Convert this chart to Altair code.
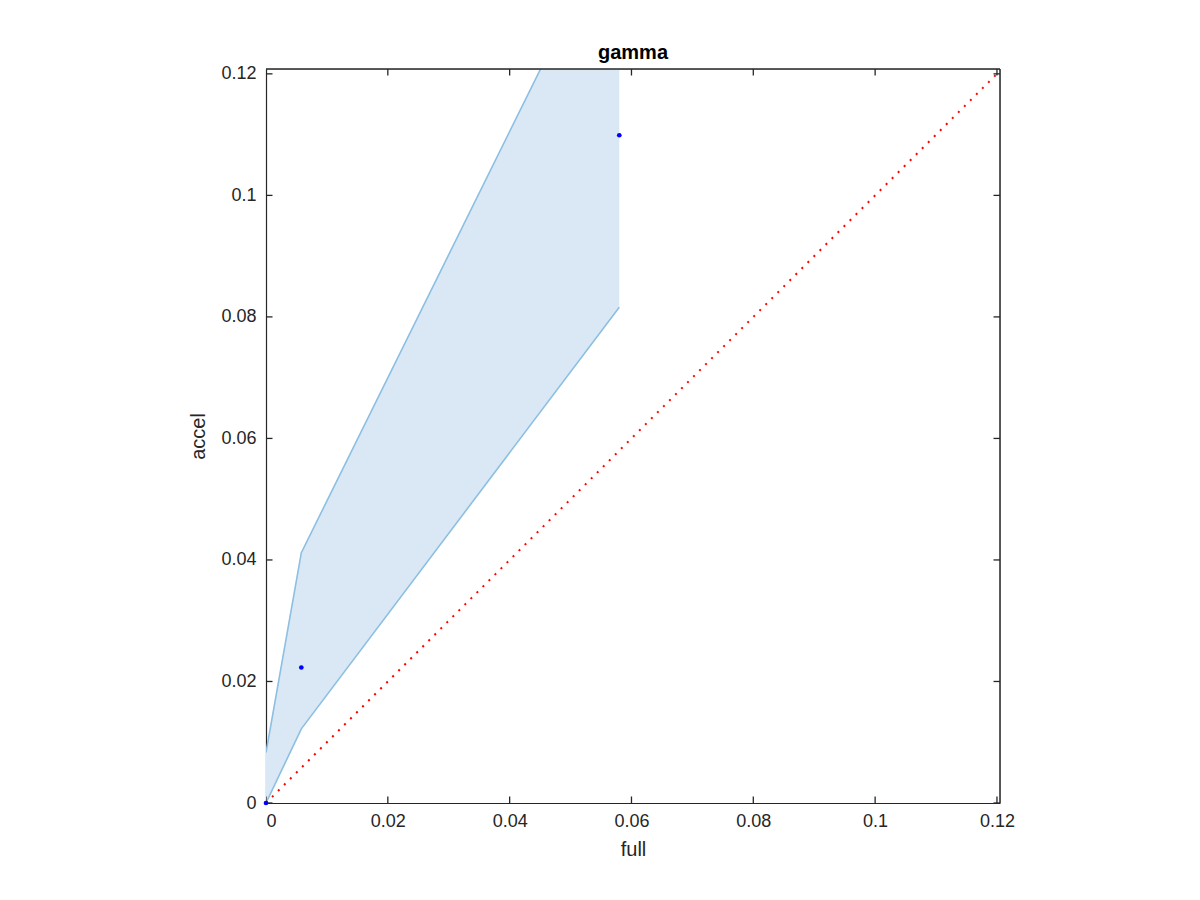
import altair as alt
import pandas as pd

# data
full = [0.0, 0.0058, 0.058]
accel = [0.0, 0.0223, 0.1099]
band_lo = [0.0, 0.0122, 0.0816]
band_hi = [0.0083, 0.0412, 0.147]
diag = [0.0, 0.121]
ticks = [0, 0.02, 0.04, 0.06, 0.08, 0.1, 0.12]
XMAX = 0.1205
YMAX = 0.1208

FONT = "Liberation Sans"
AX = "#262626"

band = pd.DataFrame({"full": full, "lo": band_lo, "hi": band_hi})
pts = pd.DataFrame({"full": full, "accel": accel})
dg = pd.DataFrame({"full": diag, "accel": diag})
xt = pd.DataFrame({"t": ticks, "ymin": [0.0] * len(ticks), "ymax": [YMAX] * len(ticks)})
yt = pd.DataFrame({"t": ticks, "xmin": [0.0] * len(ticks), "xmax": [XMAX] * len(ticks)})
edges_x = pd.DataFrame({"x": [XMAX], "y0": [0.0], "y1": [YMAX]})
edges_y = pd.DataFrame({"y": [YMAX], "x0": [0.0], "x1": [XMAX]})

xs = alt.Scale(domain=[0, XMAX], nice=False, zero=False)
ys = alt.Scale(domain=[0, YMAX], nice=False, zero=False)

xax = alt.Axis(values=ticks, format="~g", grid=False, tickSize=0, labelPadding=9,
               domain=True, domainColor=AX, domainWidth=1.2, title="full", titlePadding=9,
               labelFontSize=18, titleFontSize=20, labelColor=AX, titleColor=AX,
               labelFont=FONT, titleFont=FONT, titleFontWeight="normal")
yax = alt.Axis(values=ticks, format="~g", grid=False, tickSize=0, labelPadding=10,
               domain=True, domainColor=AX, domainWidth=1.2, title="accel", titlePadding=12,
               labelFontSize=18, titleFontSize=20, labelColor=AX, titleColor=AX,
               labelFont=FONT, titleFont=FONT, titleFontWeight="normal")

area = alt.Chart(band).mark_area(clip=True, color="#d9e8f4", opacity=1).encode(
    x=alt.X("full:Q", scale=xs, axis=xax),
    y=alt.Y("lo:Q", scale=ys, axis=yax),
    y2="hi:Q",
)
lo_line = alt.Chart(band).mark_line(clip=True, color="#8cbfe2", strokeWidth=1.6).encode(
    x=alt.X("full:Q", scale=xs), y=alt.Y("lo:Q", scale=ys))
hi_line = alt.Chart(band).mark_line(clip=True, color="#8cbfe2", strokeWidth=1.6).encode(
    x=alt.X("full:Q", scale=xs), y=alt.Y("hi:Q", scale=ys))
diag_line = alt.Chart(dg).mark_line(clip=True, color="#ff0000", strokeWidth=2,
                                    strokeDash=[2, 6.5]).encode(
    x=alt.X("full:Q", scale=xs), y=alt.Y("accel:Q", scale=ys))
points = alt.Chart(pts).mark_circle(color="#0000ff", opacity=1, size=22).encode(
    x=alt.X("full:Q", scale=xs), y=alt.Y("accel:Q", scale=ys))

tk = dict(clip=True, size=13, thickness=1.3, color=AX, opacity=1)
tb = alt.Chart(xt).mark_tick(orient="vertical", **tk).encode(
    x=alt.X("t:Q", scale=xs), y=alt.Y("ymin:Q", scale=ys))
tt = alt.Chart(xt).mark_tick(orient="vertical", **tk).encode(
    x=alt.X("t:Q", scale=xs), y=alt.Y("ymax:Q", scale=ys))
tl = alt.Chart(yt).mark_tick(orient="horizontal", **tk).encode(
    x=alt.X("xmin:Q", scale=xs), y=alt.Y("t:Q", scale=ys))
tr = alt.Chart(yt).mark_tick(orient="horizontal", **tk).encode(
    x=alt.X("xmax:Q", scale=xs), y=alt.Y("t:Q", scale=ys))

right_edge = alt.Chart(edges_x).mark_rule(color=AX, strokeWidth=1.5).encode(
    x=alt.X("x:Q", scale=xs), y=alt.Y("y0:Q", scale=ys), y2="y1:Q")
top_edge = alt.Chart(edges_y).mark_rule(color=AX, strokeWidth=1.5).encode(
    y=alt.Y("y:Q", scale=ys), x=alt.X("x0:Q", scale=xs), x2="x1:Q")

chart = alt.layer(area, lo_line, hi_line, diag_line, tb, tt, tl, tr,
                  right_edge, top_edge, points).properties(
    width=734, height=734,
    title=alt.TitleParams("gamma", font=FONT, fontSize=20, fontWeight="bold",
                          color="#000000", anchor="middle", baseline="alphabetic", offset=-14),
    autosize=alt.AutoSizeParams(type="none"),
    padding={"left": 258, "top": 61, "right": 192, "bottom": 89},
).configure_view(stroke=None).configure(background="white")

chart.save("out.html", embed_options={"renderer": "svg", "actions": False})
